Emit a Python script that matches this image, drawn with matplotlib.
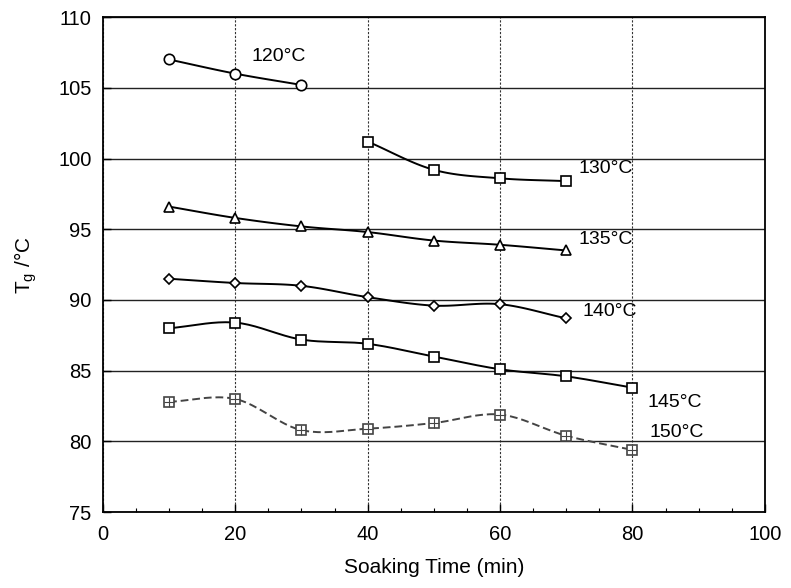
import numpy as np
import matplotlib
matplotlib.use('Agg')
import matplotlib.pyplot as plt
from matplotlib.ticker import MultipleLocator

# Soaking temperatures and readings
t_120 = [10, 20, 30]
tg_120 = [107.0, 106.0, 105.2]
t_130 = [40, 50, 60, 70]
tg_130 = [101.2, 99.2, 98.6, 98.4]
t_135 = [10, 20, 30, 40, 50, 60, 70]
tg_135 = [96.6, 95.8, 95.2, 94.8, 94.2, 93.9, 93.5]
t_140 = [10, 20, 30, 40, 50, 60, 70]
tg_140 = [91.5, 91.2, 91.0, 90.2, 89.6, 89.7, 88.7]
t_145 = [10, 20, 30, 40, 50, 60, 70, 80]
tg_145 = [88.0, 88.4, 87.2, 86.9, 86.0, 85.1, 84.6, 83.8]
t_150 = [10, 20, 30, 40, 50, 60, 70, 80]
tg_150 = [82.8, 83.0, 80.8, 80.9, 81.3, 81.9, 80.4, 79.4]

labels = ['120°C', '130°C', '135°C', '140°C', '145°C', '150°C']


def smooth(x, y, n=20):
    # catmull-rom curve through the points, only for drawing the line
    x = np.asarray(x, float)
    y = np.asarray(y, float)
    if len(x) < 3:
        return x, y
    px = np.concatenate([[2 * x[0] - x[1]], x, [2 * x[-1] - x[-2]]])
    py = np.concatenate([[2 * y[0] - y[1]], y, [2 * y[-1] - y[-2]]])
    xs, ys = [], []
    s = np.linspace(0, 1, n, endpoint=False)
    for i in range(1, len(px) - 2):
        for p, out in ((px, xs), (py, ys)):
            p0, p1, p2, p3 = p[i - 1], p[i], p[i + 1], p[i + 2]
            out.extend(0.5 * (2 * p1 + (-p0 + p2) * s
                              + (2 * p0 - 5 * p1 + 4 * p2 - p3) * s ** 2
                              + (-p0 + 3 * p1 - 3 * p2 + p3) * s ** 3))
    xs.append(x[-1])
    ys.append(y[-1])
    return np.array(xs), np.array(ys)


plt.rcParams['font.family'] = ['Liberation Sans', 'DejaVu Sans']

fig = plt.figure(figsize=(7.91, 5.88), dpi=100)
ax = fig.add_axes([0.130, 0.129, 0.837, 0.842])

series = [
    (t_120, tg_120, 'o', '-', 'k'),
    (t_130, tg_130, 's', '-', 'k'),
    (t_135, tg_135, '^', '-', 'k'),
    (t_140, tg_140, 'D', '-', 'k'),
    (t_145, tg_145, 's', '-', 'k'),
    (t_150, tg_150, 's', (0, (4, 2)), '#444444'),
]
msize = {'o': 7.5, 's': 7.5, '^': 7.5, 'D': 5.5}

for x, y, m, ls, c in series:
    sx, sy = smooth(x, y)
    ax.plot(sx, sy, color=c, lw=1.4, ls=ls, zorder=3)
    ax.plot(x, y, ls='none', marker=m, ms=msize[m], mfc='white', mec=c,
            mew=1.2, zorder=4)
# the 150 series has a cross inside each square
ax.plot(t_150, tg_150, ls='none', marker='+', ms=6.5, mec='#444444', mew=0.8, zorder=5)

label_pos = [(22.5, 107.2), (71.8, 99.3), (71.8, 94.3), (72.5, 89.2),
             (82.2, 82.75), (82.6, 80.6)]
for lab, (lx, ly) in zip(labels, label_pos):
    ax.text(lx, ly, lab, fontsize=14, va='center', ha='left', zorder=6)

ax.set_xlim(0, 100)
ax.set_ylim(75, 110)
ax.xaxis.set_major_locator(MultipleLocator(20))
ax.xaxis.set_minor_locator(MultipleLocator(5))
ax.yaxis.set_major_locator(MultipleLocator(5))
ax.tick_params(direction='in', which='major', length=6, width=1, labelsize=14.5)
ax.tick_params(direction='in', which='minor', length=3, width=0.8)
ax.tick_params(axis='y', pad=8)
ax.tick_params(axis='x', pad=9)

ax.grid(axis='y', color='#222222', lw=1.0, ls='-')
ax.grid(axis='x', color='#333333', lw=0.8, ls=(0, (2, 1.5)))
ax.set_axisbelow(True)
for sp in ax.spines.values():
    sp.set_linewidth(1.3)

ax.set_xlabel('Soaking Time (min)', fontsize=15, labelpad=10)
ax.set_ylabel('T$_{\\mathregular{g}}$ /°C', fontsize=15, labelpad=14)

fig.savefig('out.png', dpi=100)
